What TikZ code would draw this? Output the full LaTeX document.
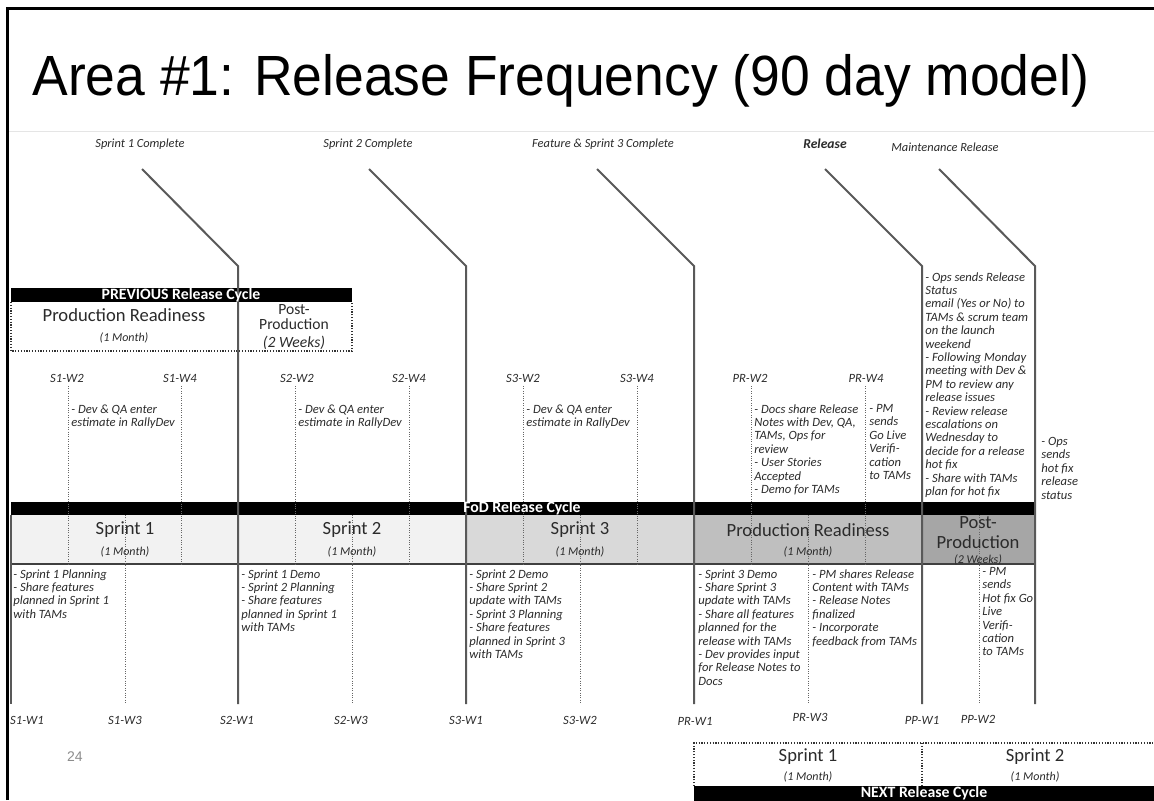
\documentclass[tikz,border=0pt]{standalone}
\usepackage{fontspec}
\setmainfont{Carlito}
\newfontfamily\arialfont{Liberation Sans}
\definecolor{txt}{HTML}{2B2B2B}
\definecolor{lin}{HTML}{595959}
\definecolor{dot}{HTML}{666666}
\definecolor{sa}{HTML}{F2F2F2}
\definecolor{sb}{HTML}{D9D9D9}
\definecolor{sc}{HTML}{BFBFBF}
\definecolor{sd}{HTML}{A6A6A6}
\definecolor{pg}{HTML}{8C8C8C}
\begin{document}
\begin{tikzpicture}[x=0.5pt,y=-0.5pt,
  every node/.style={inner sep=0pt},
  note/.style={font=\fontsize{6.3}{6.7}\selectfont\itshape, text=txt, align=left, anchor=north west},
  toplab/.style={font=\fontsize{6.2}{7}\selectfont\itshape, text=txt},
  wk/.style={font=\fontsize{6.3}{7}\selectfont\itshape, text=txt},
  big/.style={font=\fontsize{9.3}{10}\selectfont, text=txt, align=center},
  mid/.style={font=\fontsize{7.8}{7.6}\selectfont, text=txt, align=center},
  dur/.style={font=\fontsize{6}{7}\selectfont\itshape, text=txt},
  barlab/.style={font=\fontsize{7.9}{8}\selectfont\bfseries, text=white},
  mainline/.style={draw=lin, line width=1pt},
  wkline/.style={draw=dot, line width=0.5pt, dash pattern=on 0.5pt off 0.7pt},
  boxdot/.style={draw=black!80, line width=0.7pt, dash pattern=on 0.6pt off 0.8pt},
]
\useasboundingbox (0,0) rectangle (1154,800);
\fill[white] (0,0) rectangle (1154,800);

% frame and title
\draw[line width=1.5pt] (7,800) -- (7,8) -- (1154,8);
\draw[black!10, line width=0.5pt] (9,131) -- (1154,131);
\node[anchor=base west, font=\arialfont\fontsize{27}{30}\selectfont] (title) at (32,95) {\scalebox{0.99}[1.05]{Area \#1: Release Frequency (90 day model)}};
\node[font=\arialfont\fontsize{7}{8}\selectfont, text=pg] (pnum) at (75,757) {24};

% PREVIOUS release cycle
\fill[black] (11,288) rectangle (352,302);
\draw[boxdot] (11,302) -- (11,351) -- (352,351) -- (352,302);
\draw[boxdot] (238,302) -- (238,351);

% FoD release cycle row
\fill[black] (11,502) rectangle (1035,515);
\fill[sa] (11,515) rectangle (466,564);
\fill[sb] (466,515) rectangle (694,564);
\fill[sc] (694,515) rectangle (922,564);
\fill[sd] (922,515) rectangle (1035,564);
\draw[draw=black!75, line width=0.8pt] (11,564) -- (1035,564);

% NEXT release cycle
\draw[boxdot] (694,786) -- (694,743) -- (1160,743);
\draw[boxdot] (922,743) -- (922,786);
\fill[black] (694,786) rectangle (1160,802);

% milestone lines
\coordinate (a1) at (142,169); \coordinate (b1) at (238,266); \coordinate (c1) at (238,704);
\coordinate (a2) at (369,169); \coordinate (b2) at (466,266); \coordinate (c2) at (466,704);
\coordinate (a3) at (597,169); \coordinate (b3) at (694,266); \coordinate (c3) at (694,704);
\coordinate (a4) at (825,169); \coordinate (b4) at (922,266); \coordinate (c4) at (922,704);
\coordinate (a5) at (939,169); \coordinate (b5) at (1035,266); \coordinate (c5) at (1035,704);
\coordinate (a0) at (11,515); \coordinate (c0) at (11,704);
\draw[mainline] (a1) -- (b1) -- (c1);
\draw[mainline] (a2) -- (b2) -- (c2);
\draw[mainline] (a3) -- (b3) -- (c3);
\draw[mainline] (a4) -- (b4) -- (c4);
\draw[mainline] (a5) -- (b5) -- (c5);
\draw[mainline] (a0) -- (c0);

% week lines (W2 / W4: top)
\foreach \x in {68,181,295,409,523,637,751,865}
  \draw[wkline] (\x,386) -- (\x,564);
% week lines (W3: bottom)
\foreach \x in {125,352,580,808,979}
  \draw[wkline] (\x,515) -- (\x,704);

% bar labels
\node[barlab] (prev) at (181,295) {PREVIOUS Release Cycle};
\node[barlab] (fod) at (522,508.5) {FoD Release Cycle};
\node[barlab] (next) at (924,793) {NEXT Release Cycle};

% previous cycle labels
\node[big] (ppr) at (124,315) {Production Readiness};
\node[dur] (ppr2) at (124,338) {(1 Month)};
\node[mid] (ppp) at (294,317) {Post-\\Production};
\node[font=\fontsize{7.8}{8}\selectfont\itshape, text=txt] (ppp2) at (294,343) {(2 Weeks)};

% sprint row labels
\node[big] (sp1) at (125,530) {Sprint 1};
\node[dur] (sp1d) at (125,552) {(1 Month)};
\node[big] (sp2) at (352,530) {Sprint 2};
\node[dur] (sp2d) at (352,552) {(1 Month)};
\node[big] (sp3) at (580,530) {Sprint 3};
\node[dur] (sp3d) at (580,552) {(1 Month)};
\node[big] (prr) at (808,530) {Production Readiness};
\node[dur] (prrd) at (808,552) {(1 Month)};
\node[font=\fontsize{9.3}{10}\selectfont, text=txt, align=center] (pop) at (978,533) {Post-\\Production};
\node[dur] (popd) at (978,560) {(2 Weeks)};

% next cycle labels
\node[big] (ns1) at (808,757) {Sprint 1};
\node[dur] (ns1d) at (808,777) {(1 Month)};
\node[big] (ns2) at (1035,757) {Sprint 2};
\node[dur] (ns2d) at (1035,777) {(1 Month)};

% top milestone labels
\node[toplab] (l1) at (140,144) {Sprint 1 Complete};
\node[toplab] (l2) at (368,144) {Sprint 2 Complete};
\node[toplab] (l3) at (603,144) {Feature \& Sprint 3 Complete};
\node[toplab, font=\fontsize{6.8}{7}\selectfont\bfseries\itshape] (l4) at (825,144) {Release};
\node[toplab] (l5) at (945,147) {Maintenance Release};

% top week labels
\node[wk] (w1) at (67,378) {S1-W2};
\node[wk] (w2) at (180,378) {S1-W4};
\node[wk] (w3) at (297,378) {S2-W2};
\node[wk] (w4) at (409,378) {S2-W4};
\node[wk] (w5) at (523,378) {S3-W2};
\node[wk] (w6) at (637,378) {S3-W4};
\node[wk] (w7) at (750,378) {PR-W2};
\node[wk] (w8) at (866,378) {PR-W4};

% bottom week labels
\node[wk] (v1) at (27,720) {S1-W1};
\node[wk] (v2) at (125,720) {S1-W3};
\node[wk] (v3) at (237,720) {S2-W1};
\node[wk] (v4) at (351,720) {S2-W3};
\node[wk] (v5) at (466,720) {S3-W1};
\node[wk] (v6) at (580,720) {S3-W2};
\node[wk] (v7) at (695,721) {PR-W1};
\node[wk] (v8) at (810,717) {PR-W3};
\node[wk] (v9) at (922,720) {PP-W1};
\node[wk] (v10) at (978,719) {PP-W2};

% upper notes
\node[note] (n1) at (71,404) {- Dev \& QA enter\\estimate in RallyDev};
\node[note] (n2) at (298,404) {- Dev \& QA enter\\estimate in RallyDev};
\node[note] (n3) at (526,404) {- Dev \& QA enter\\estimate in RallyDev};
\node[note] (n4) at (754,404) {- Docs share Release\\Notes with Dev, QA,\\TAMs, Ops for\\review\\- User Stories\\Accepted\\- Demo for TAMs};
\node[note] (n5) at (869,404) {- PM\\sends\\Go Live\\Verifi-\\cation\\to TAMs};
\node[note] (n6) at (925,272) {- Ops sends Release\\Status\\email (Yes or No) to\\TAMs \& scrum team\\on the launch\\weekend\\- Following Monday\\meeting with Dev \&\\PM to review any\\release issues\\- Review release\\escalations on\\Wednesday to\\decide for a release\\hot fix\\- Share with TAMs\\plan for hot fix};
\node[note] (n7) at (1041,437) {- Ops\\sends\\hot fix\\release\\status};

% lower notes
\node[note] (m1) at (13,569) {- Sprint 1 Planning\\- Share features\\planned in Sprint 1\\with TAMs};
\node[note] (m2) at (241,569) {- Sprint 1 Demo\\- Sprint 2 Planning\\- Share features\\planned in Sprint 1\\with TAMs};
\node[note] (m3) at (469,569) {- Sprint 2 Demo\\- Share Sprint 2\\update with TAMs\\- Sprint 3 Planning\\- Share features\\planned in Sprint 3\\with TAMs};
\node[note] (m4) at (698,569) {- Sprint 3 Demo\\- Share Sprint 3\\update with TAMs\\- Share all features\\planned for the\\release with TAMs\\- Dev provides input\\for Release Notes to\\Docs};
\node[note] (m5) at (812,569) {- PM shares Release\\Content with TAMs\\- Release Notes\\finalized\\- Incorporate\\feedback from TAMs};
\node[note] (m6) at (982,567) {- PM\\sends\\Hot fix Go\\Live\\Verifi-\\cation\\to TAMs};
\end{tikzpicture}
\end{document}
